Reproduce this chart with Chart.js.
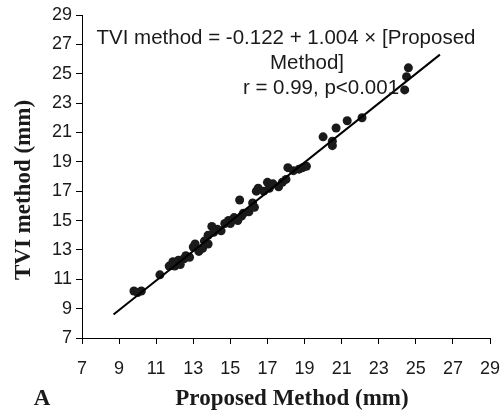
<!DOCTYPE html>
<html><head><meta charset="utf-8">
<script src="https://cdn.jsdelivr.net/npm/chart.js@4/dist/chart.umd.min.js"></script>
<style>html,body{margin:0;padding:0;background:#fff}#wrap{width:502px;height:413px}</style>
</head><body><div id="wrap"><canvas id="c" width="502" height="413"></canvas></div>
<script>
const proposedMethod = [9.8,10.0,10.2,11.2,11.7,11.9,12.0,12.2,12.3,12.5,12.6,12.8,13.0,13.1,13.3,13.5,13.6,13.8,13.8,14.0,14.1,14.3,14.5,14.7,14.9,15.0,15.2,15.4,15.5,15.6,15.7,16.0,16.2,16.3,16.4,16.5,16.8,17.0,17.1,17.3,17.6,17.8,18.0,18.1,18.4,18.7,18.9,19.1,20.0,20.5,20.5,20.7,21.3,22.1,24.4,24.5,24.6];
const tviMethod      = [10.2,10.1,10.2,11.3,11.9,12.2,11.9,12.3,12.0,12.4,12.6,12.5,13.2,13.4,12.9,13.1,13.6,13.4,14.0,14.6,14.2,14.4,14.3,14.8,15.0,14.8,15.2,15.0,16.4,15.3,15.5,15.6,16.2,15.9,17.0,17.2,17.0,17.6,17.2,17.5,17.3,17.6,17.8,18.6,18.4,18.5,18.6,18.7,20.7,20.1,20.4,21.3,21.8,22.0,23.9,24.8,25.4];
const fitLineX = [8.7, 26.3];
const fitLineY = [8.6, 26.3];
const xTickValues = [7,9,11,13,15,17,19,21,23,25,27,29];
const yTickValues = [7,9,11,13,15,17,19,21,23,25,27,29];
const xTitle = 'Proposed Method (mm)';
const yTitle = 'TVI method (mm)';
const panelLabel = 'A';
const equationLines = ['TVI method = -0.122 + 1.004 \u00d7 [Proposed', 'Method]', 'r = 0.99, p<0.001'];

const ink = '#1a1a1a';
const textPlugin = {
  id: 'texts',
  afterDraw(chart) {
    const ctx = chart.ctx;
    ctx.save();
    ctx.fillStyle = ink;
    ctx.textBaseline = 'middle';
    ctx.textAlign = 'center';
    ctx.font = 'bold 23px "Liberation Serif"';
    ctx.fillText(xTitle, 292, 399);
    ctx.fillText(panelLabel, 42, 399);
    ctx.save();
    ctx.translate(24, 190);
    ctx.rotate(-Math.PI / 2);
    ctx.fillText(yTitle, 0, 0);
    ctx.restore();
    ctx.font = '20.5px "Liberation Sans"';
    ctx.fillText(equationLines[0], 286, 38);
    ctx.fillText(equationLines[1], 307, 63);
    ctx.fillText(equationLines[2], 321, 88);
    ctx.restore();
  }
};

const axisCommon = (vals) => ({
  type: 'linear', min: 7, max: 29,
  afterBuildTicks: s => { s.ticks = vals.map(v => ({ value: v })); },
  grid: { drawOnChartArea: false, drawTicks: true, tickLength: 6, color: '#000', lineWidth: 1 },
  border: { display: true, color: '#000', width: 1 },
  title: { display: false }
});

new Chart(document.getElementById('c'), {
  type: 'scatter',
  data: {
    datasets: [
      {
        type: 'line',
        data: fitLineX.map((x, i) => ({ x, y: fitLineY[i] })),
        borderColor: '#000', borderWidth: 2, pointRadius: 0, fill: false
      },
      {
        data: proposedMethod.map((x, i) => ({ x, y: tviMethod[i] })),
        backgroundColor: ink, borderColor: ink, pointRadius: 4.5, borderWidth: 0
      }
    ]
  },
  options: {
    responsive: false, animation: false, devicePixelRatio: 1,
    layout: { padding: { left: 0, right: 12, top: 15, bottom: 0 } },
    plugins: { legend: { display: false }, tooltip: { enabled: false } },
    scales: {
      x: Object.assign(axisCommon(xTickValues), {
        position: 'bottom',
        ticks: { color: ink, font: { family: 'Liberation Sans', size: 18 }, padding: 14, maxRotation: 0, autoSkip: false },
        afterFit: s => { s.height = 75; s.paddingLeft = 0; s.paddingRight = 0; }
      }),
      y: Object.assign(axisCommon(yTickValues), {
        position: 'left',
        ticks: { color: ink, font: { family: 'Liberation Sans', size: 18 }, padding: 4, autoSkip: false },
        afterFit: s => { s.width = 82; }
      })
    }
  },
  plugins: [textPlugin]
});
</script>
</body></html>
